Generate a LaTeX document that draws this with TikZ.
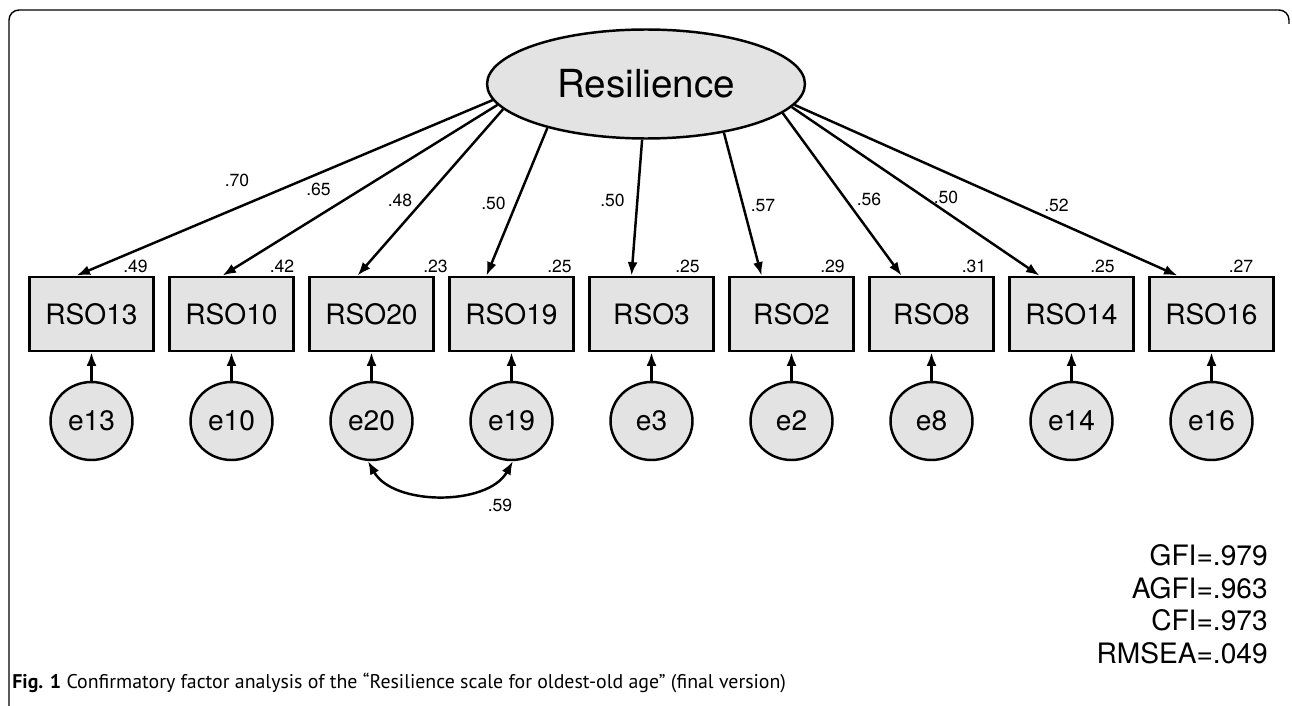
\documentclass[tikz,border=0pt]{standalone}
\usepackage{fontspec}
\setmainfont{TeX Gyre Heros}
\newfontfamily\capfont{PT Sans}
\usetikzlibrary{arrows.meta,calc,shapes.geometric}
\definecolor{boxfill}{RGB}{227,227,227}
\begin{document}
\begin{tikzpicture}[x=0.02cm,y=-0.02cm,
  obs/.style={draw,line width=1.6pt,fill=boxfill,minimum width=2.48cm,minimum height=1.48cm,inner sep=0pt,font=\fontsize{16}{19}\selectfont},
  err/.style={ellipse,draw,line width=1.4pt,fill=boxfill,minimum width=1.64cm,minimum height=1.56cm,inner sep=0pt,font=\fontsize{16}{19}\selectfont},
  lat/.style={ellipse,draw,line width=1.4pt,fill=boxfill,minimum width=6.36cm,minimum height=2.18cm,inner sep=0pt,font=\fontsize{22}{26}\selectfont},
  conn/.style={line width=1.4pt,-{Latex[length=0.27cm,width=0.2cm]}},
  cov/.style={line width=1.4pt,{Latex[length=0.27cm,width=0.2cm]}-{Latex[length=0.27cm,width=0.2cm]}},
  lbl/.style={font=\fontsize{10}{12}\selectfont,inner sep=0pt},
  fitidx/.style={font=\fontsize{16}{19}\selectfont,inner sep=0pt,anchor=base east},
  frame/.style={line width=0.8pt,rounded corners=0.2cm}
]
\useasboundingbox (0,0) rectangle (1292,706);
\draw[frame] (9,706) -- (9,10) -- (1289,10) -- (1289,24);

\node[lat] (res) at (646,84) {Resilience};

\foreach \n [count=\i from 0] in {13,10,20,19,3,2,8,14,16} {
  \node[obs] (b\n) at (91.5+140*\i,314) {RSO\n};
  \node[err] (e\n) at (91.5+140*\i,421) {e\n};
  \draw[conn] (e\n) -- (b\n);
}

\foreach \n/\a/\o/\lx/\ly/\t in {13/186/-15/237/180/.70, 10/188/-9/318.5/189.5/.65, 20/190/-14/400/200/.48, 19/204/-25/493.5/203.5/.50, 3/266/-20/612.5/200/.50, 2/328/-30/763/205.5/.57, 8/348/-30/869/199/.56, 14/351/-32/946/197/.50, 16/352/-34/1056.5/205.5/.52} {
  \draw[conn] (res.\a) -- ($(b\n.north)+(\o,0)$);
  \node[lbl] (L\n) at (\lx,\ly) {\t};
}

\foreach \n/\lx/\t in {13/135.5/.49, 10/282/.42, 20/435.5/.23, 19/559.5/.25, 3/687.5/.25, 2/832.5/.29, 8/974/.31, 14/1102.5/.25, 16/1241/.27} {
  \node[lbl] (V\n) at (\lx,266) {\t};
}

\draw[cov] (e20.265) .. controls +(25,45) and +(-25,45) .. (e19.272);
\node[lbl] (c59) at (500,505) {.59};

\node[fitidx] (gfi) at (1268,565) {GFI=.979};
\node[fitidx] (agfi) at (1268,598) {AGFI=.963};
\node[fitidx] (cfi) at (1268,630) {CFI=.973};
\node[fitidx] (rmsea) at (1268,663) {RMSEA=.049};

\node[anchor=base west,inner sep=0pt,font=\capfont\fontsize{11.3}{13}\selectfont] (cap) at (12,688) {\textbf{Fig. 1} Confirmatory factor analysis of the “Resilience scale for oldest-old age” (final version)};
\end{tikzpicture}
\end{document}
